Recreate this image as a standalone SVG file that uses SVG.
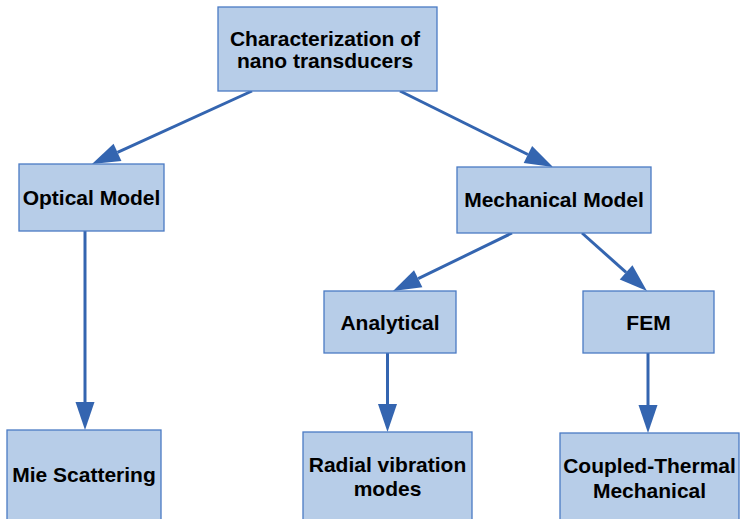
<svg xmlns="http://www.w3.org/2000/svg" width="740" height="519" viewBox="0 0 740 519">
<style>
.box{fill:#b7cde8;stroke:#4a7ac4;stroke-width:1.3}
.lbl{font-family:"Liberation Sans",Arial,sans-serif;font-weight:bold;font-size:21px;fill:#000;text-anchor:middle}
.conn{stroke:#3465b0;stroke-width:3;fill:none;marker-end:url(#ah)}
</style>
<defs>
<marker id="ah" markerUnits="userSpaceOnUse" markerWidth="29" markerHeight="20" refX="0" refY="10" orient="auto" overflow="visible">
<path d="M0,0.5 L28,10 L0,19.5 Z" fill="#3465b0"/>
</marker>
</defs>
<rect width="740" height="519" fill="#fff"/>
<g id="connectors">
<line class="conn" x1="252" y1="91" x2="117.5" y2="152.4"/>
<line class="conn" x1="400" y1="91" x2="527.9" y2="154.5"/>
<line class="conn" x1="512" y1="233" x2="418.2" y2="278.7"/>
<line class="conn" x1="582" y1="233" x2="626.1" y2="272.4"/>
<line class="conn" x1="85" y1="231" x2="85" y2="402"/>
<line class="conn" x1="387.5" y1="353" x2="387.5" y2="404"/>
<line class="conn" x1="648" y1="353" x2="648" y2="405"/>
</g>
<g id="n-top">
<rect class="box" x="218" y="7" width="219" height="84"/>
<text class="lbl" x="325" y="46">Characterization of</text>
<text class="lbl" x="325" y="68">nano transducers</text>
</g>
<g id="n-optical">
<rect class="box" x="19" y="164" width="145" height="67"/>
<text class="lbl" x="91.5" y="205">Optical Model</text>
</g>
<g id="n-mechanical">
<rect class="box" x="457" y="167" width="194" height="66"/>
<text class="lbl" x="554" y="207">Mechanical Model</text>
</g>
<g id="n-analytical">
<rect class="box" x="324" y="291" width="132" height="62"/>
<text class="lbl" x="390" y="330">Analytical</text>
</g>
<g id="n-fem">
<rect class="box" x="583" y="291" width="131" height="62"/>
<text class="lbl" x="648.5" y="330">FEM</text>
</g>
<g id="n-mie">
<rect class="box" x="7" y="430" width="154" height="95"/>
<text class="lbl" x="84" y="482">Mie Scattering</text>
</g>
<g id="n-radial">
<rect class="box" x="303" y="432" width="169" height="95"/>
<text class="lbl" x="387.5" y="472">Radial vibration</text>
<text class="lbl" x="387.5" y="496">modes</text>
</g>
<g id="n-coupled">
<rect class="box" x="560" y="433" width="179" height="95"/>
<text class="lbl" x="649.5" y="473">Coupled-Thermal</text>
<text class="lbl" x="649.5" y="497.5">Mechanical</text>
</g>
</svg>
